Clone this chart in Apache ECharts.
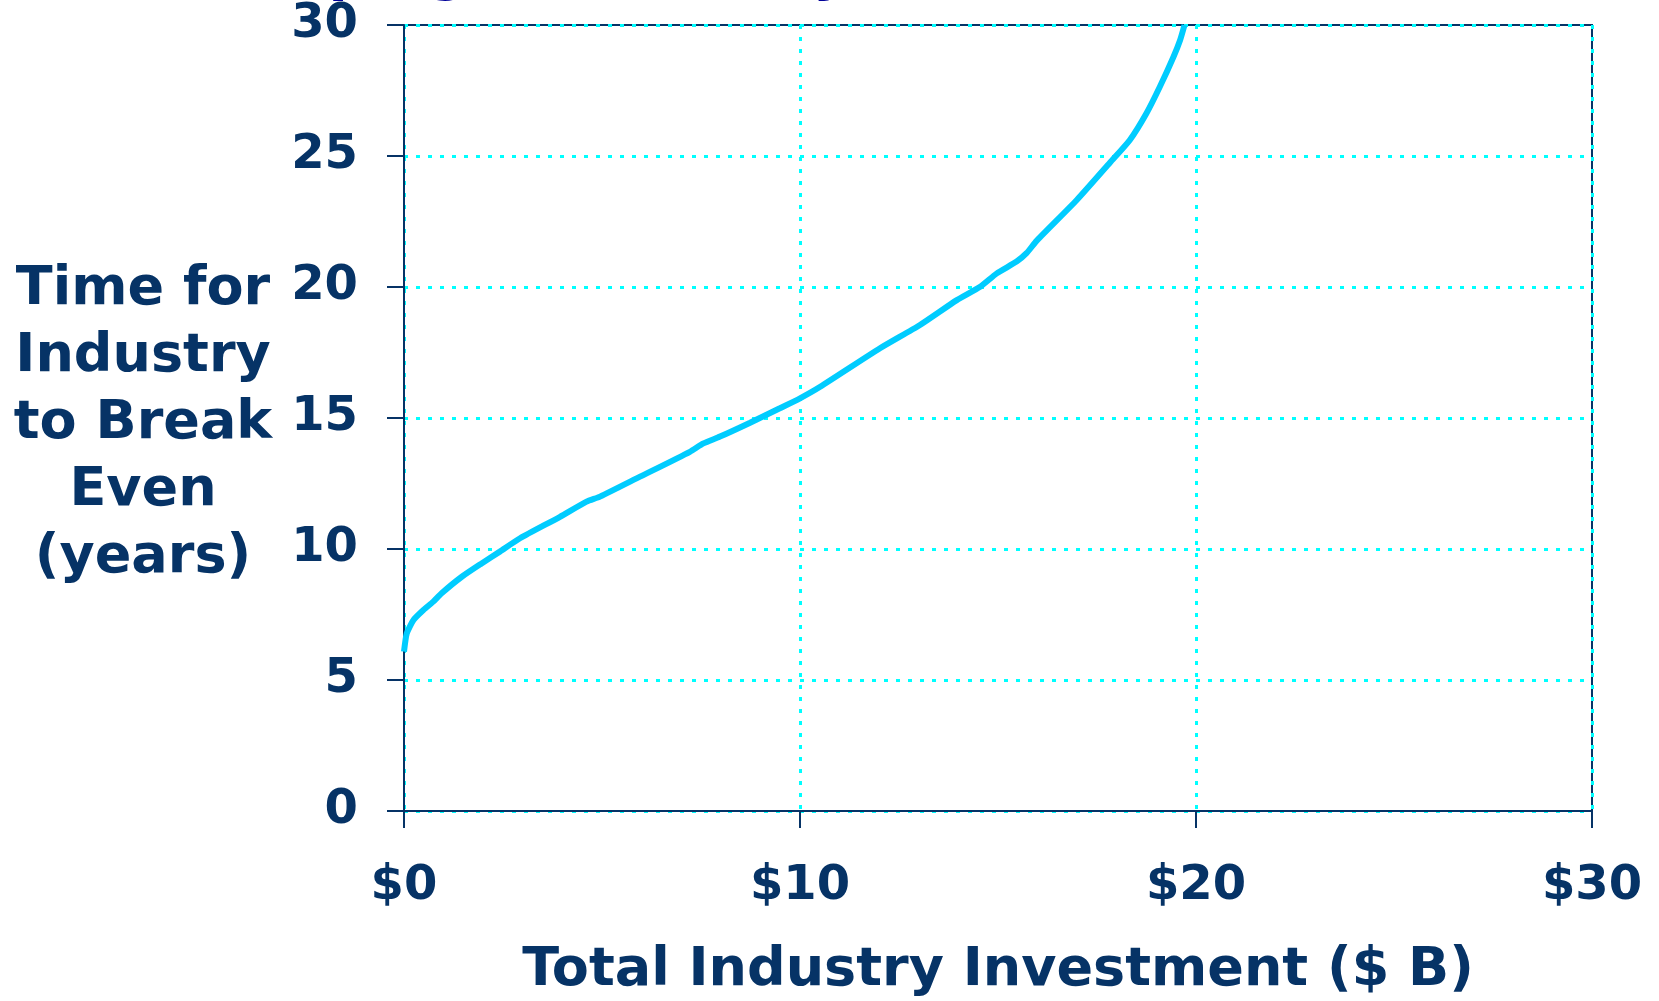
<!DOCTYPE html>
<html>
<head>
<meta charset="utf-8">
<script src="https://cdn.jsdelivr.net/npm/echarts@6/dist/echarts.min.js"></script>
<style>
  html, body { margin: 0; padding: 0; background: #ffffff; overflow: hidden; }
  #chart { width: 1659px; height: 1001px; }
</style>
</head>
<body>
<div id="chart"></div>
<script>
// Cumulative industry investment ($ billions) and years needed to break even
const investment = [0, 0.07, 0.24, 0.49, 0.74, 0.95, 1.46, 1.96, 2.42, 2.93, 3.94, 4.61, 4.95, 5.96, 7.22, 7.56, 7.98, 8.74, 9.49, 10.0, 10.51, 12.02, 13.03, 13.96, 14.55, 14.97, 15.47, 15.72, 15.98, 16.99, 17.83, 18.33, 18.75, 19.09, 19.43, 19.60, 19.71];
const breakEvenYears = [6.08, 6.78, 7.29, 7.67, 7.99, 8.31, 8.94, 9.45, 9.90, 10.41, 11.23, 11.81, 12.00, 12.76, 13.71, 14.03, 14.29, 14.82, 15.37, 15.75, 16.19, 17.66, 18.55, 19.5, 20.01, 20.52, 20.97, 21.29, 21.77, 23.32, 24.75, 25.61, 26.63, 27.65, 28.78, 29.43, 30.0];

const xTickLabels = ['$0', '$10', '$20', '$30'];
const yTickLabels = ['0', '5', '10', '15', '20', '25', '30'];

const titleText = 'Developing an Industry';
const xAxisTitle = 'Total Industry Investment ($ B)';
const yAxisTitle = 'Time for\nIndustry\nto Break\nEven\n(years)';

const navy = '#063366';
const FONT = '"DejaVu Sans", Verdana, sans-serif';

const chart = echarts.init(document.getElementById('chart'), null, { renderer: 'canvas', width: 1659, height: 1001 });

const points = investment.map((x, i) => [x, breakEvenYears[i]]);

chart.setOption({
  animation: false,
  backgroundColor: '#ffffff',
  grid: {
    left: 404, right: 67, top: 25, bottom: 190,
    containLabel: false, outerBoundsMode: 'none',
    show: true, borderColor: navy, borderWidth: 2, backgroundColor: 'transparent'
  },
  graphic: [
    {
      type: 'text', x: 112, y: -54, silent: true,
      style: { text: titleText, fill: '#000099', font: 'bold 56px ' + FONT, verticalAlign: 'top' }
    },
    {
      type: 'text', x: 143, y: 424, silent: true,
      style: {
        text: yAxisTitle, fill: navy, font: 'bold 54px ' + FONT,
        align: 'center', verticalAlign: 'middle', lineHeight: 67
      }
    }
  ],
  xAxis: {
    type: 'value', min: 0, max: 30, interval: 10,
    name: xAxisTitle, nameLocation: 'middle', nameGap: 133,
    nameTextStyle: { color: navy, fontFamily: FONT, fontWeight: 'bold', fontSize: 54, verticalAlign: 'top' },
    axisLine: { show: true, lineStyle: { color: navy, width: 2 } },
    axisTick: { show: true, length: 17, lineStyle: { color: navy, width: 2 } },
    axisLabel: {
      color: navy, fontFamily: FONT, fontWeight: 'bold', fontSize: 48, margin: 52,
      formatter: (v) => xTickLabels[Math.round(v / 10)]
    },
    splitLine: { show: true, lineStyle: { color: '#00ffff', width: 3, type: [4, 8] } }
  },
  yAxis: {
    type: 'value', min: 0, max: 30, interval: 5,
    axisLine: { show: true, lineStyle: { color: navy, width: 2 } },
    axisTick: { show: true, length: 17, lineStyle: { color: navy, width: 2 } },
    axisLabel: {
      color: navy, fontFamily: FONT, fontWeight: 'bold', fontSize: 48, margin: 46,
      formatter: (v) => yTickLabels[Math.round(v / 5)]
    },
    splitLine: { show: true, lineStyle: { color: '#00ffff', width: 3, type: [4, 8] } }
  },
  series: [{
    type: 'line',
    data: points,
    showSymbol: false,
    smooth: 0.2,
    clip: true,
    lineStyle: { color: '#00ccff', width: 6 },
    z: 3
  }]
});
</script>
</body>
</html>
